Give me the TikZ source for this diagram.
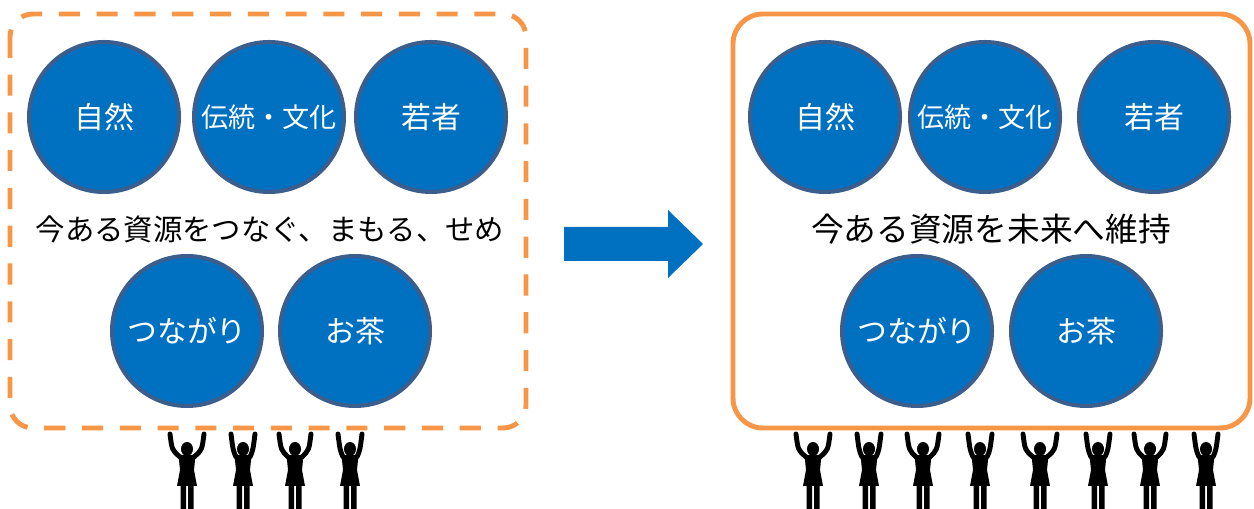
\documentclass[tikz,border=0pt]{standalone}
\usepackage{fontspec}
\setmainfont{Noto Sans CJK JP}
\usepackage{tikz}
\definecolor{resblue}{HTML}{0070C0}
\definecolor{resedge}{HTML}{3B5E8C}
\definecolor{resorange}{HTML}{F79646}

% a person with both arms up, origin at the neck, #1 = how far out the hands go
\tikzset{
  pics/person/.style={code={
    \fill (0,-7) ellipse[x radius=6, y radius=7]; % head
    \draw[line width=2.8pt, line cap=round] (-7,1) .. controls (-#1+2,-6) .. (-#1,-22);
    \draw[line width=2.8pt, line cap=round] (7,1) .. controls (#1-2,-6) .. (#1,-22);
    \fill (-8.5,-1) -- (8.5,-1) -- (7,14) -- (10,30) -- (-10,30) -- (-7,14) -- cycle; % body
    \fill (-6.5,28) rectangle (-1,60) (1,28) rectangle (6.5,60); % legs
  }}
}

\begin{document}
\begin{tikzpicture}[x=0.02cm, y=-0.02cm,
    res/.style={circle, fill=resblue, draw=resedge, line width=2.3pt,
      minimum size=3cm, inner sep=0pt, text=white,
      font=\fontsize{17pt}{18pt}\selectfont},
    ressmall/.style={res, font=\fontsize{15.4pt}{17pt}\selectfont},
    frame/.style={resorange, line width=2.8pt, rounded corners=13pt},
    caption/.style={text=black, inner sep=0pt}]
    \clip (0,0) rectangle (1254,509);

    % before: loose dashed frame
    \draw[frame, dash pattern=on 12pt off 9.5pt] (10,14) rectangle (526,428);
    \node[res] (nat1) at (104,117) {自然};
    \node[ressmall] (cul1) at (269,117) {伝統・文化};
    \node[res] (youth1) at (431,117) {若者};
    \node[caption, font=\fontsize{16.7pt}{18pt}\selectfont] (cap1) at (270,229) {今ある資源をつなぐ、まもる、せめ};
    \node[res] (tie1) at (187,331) {つながり};
    \node[res] (tea1) at (355,331) {お茶};
    \foreach \x/\s in {187/17, 243/12, 295/16, 350/12}
      \pic at (\x,456) {person=\s};

    % block arrow
    \fill[resblue] (564,227) -- (668,227) -- (668,210) -- (703,244) -- (668,278) -- (668,261) -- (564,261) -- cycle;

    % after: solid frame
    \draw[frame, rounded corners=17pt] (733,14) rectangle (1250,428);
    \node[res] (nat2) at (825,117) {自然};
    \node[ressmall] (cul2) at (985,117) {伝統・文化};
    \node[res] (youth2) at (1154,117) {若者};
    \node[caption, font=\fontsize{18.6pt}{20pt}\selectfont] (cap2) at (991,229) {今ある資源を未来へ維持};
    \node[res] (tie2) at (917,331) {つながり};
    \node[res] (tea2) at (1086,331) {お茶};
    \foreach \x/\s in {813/17, 869/12, 923/16, 980/12, 1040/17, 1098/12, 1150/16, 1206/12}
      \pic at (\x,456) {person=\s};
\end{tikzpicture}
\end{document}
